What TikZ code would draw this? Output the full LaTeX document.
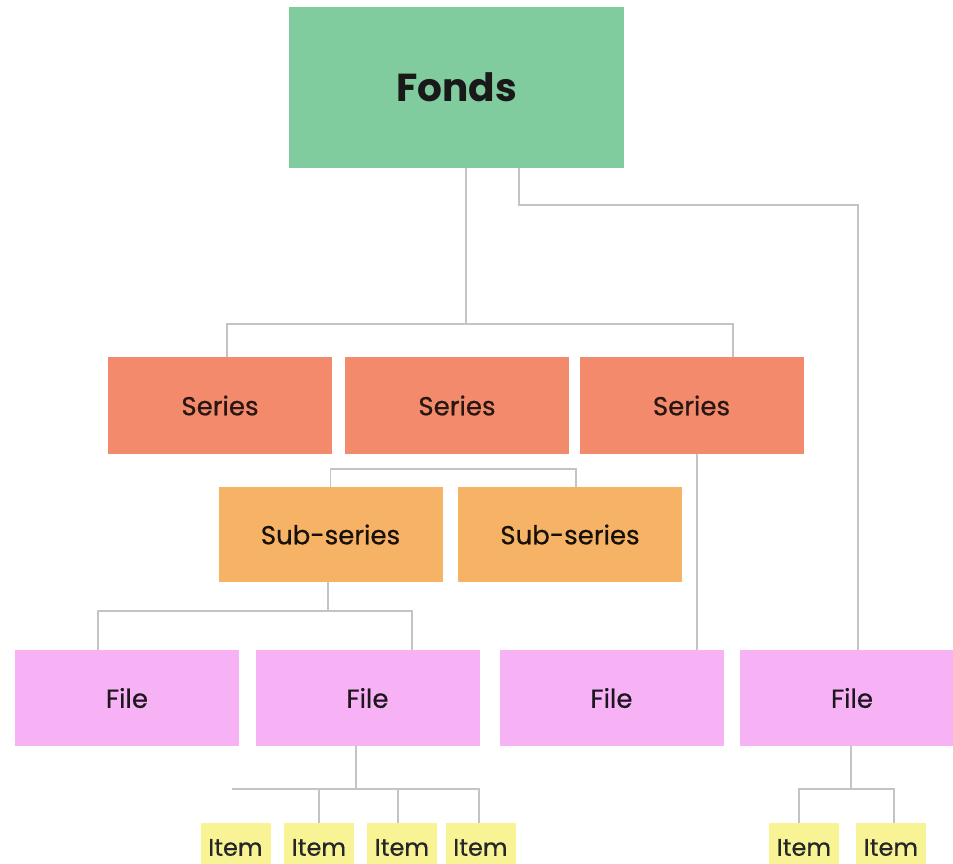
\documentclass[tikz,border=0pt]{standalone}
\usepackage{fontspec}
\setmainfont{Poppins}
\newfontfamily\medfont{Poppins}[FakeBold=0.6]
\definecolor{fondsc}{HTML}{80CC9E}
\definecolor{seriesc}{HTML}{F48A6C}
\definecolor{subc}{HTML}{F6B366}
\definecolor{filec}{HTML}{F7B2F5}
\definecolor{itemc}{HTML}{F8F496}
\definecolor{linec}{HTML}{C4C4C4}
\begin{document}
\begin{tikzpicture}[x=1pt,y=-1pt,
  box/.style={rectangle, inner sep=0pt, font=\medfont\fontsize{26}{30}\selectfont},
  fondsbox/.style={box, fill=fondsc, minimum width=335pt, minimum height=161pt, text=black!90, font=\fontsize{39}{44}\selectfont\bfseries},
  seriesbox/.style={box, fill=seriesc, minimum width=224pt, minimum height=97pt, text=black!60!seriesc!40!black},
  subbox/.style={box, fill=subc, minimum width=224pt, minimum height=95pt, text=black!70!subc!30!black},
  filebox/.style={box, fill=filec, minimum width=224pt, minimum height=96pt, text=black!65!filec!35!black},
  itembox/.style={box, fill=itemc, minimum width=70pt, minimum height=49pt, font=\medfont\fontsize{24}{28}\selectfont, text=black!85},
  conn/.style={draw=linec, line width=1.1pt}]
\useasboundingbox (0,0) rectangle (953,863);
\clip (0,0) rectangle (953,863);
\node[fondsbox] (fonds) at (456.5,87.5) {Fonds};
\node[seriesbox] (s1) at (220,405.5) {Series};
\node[seriesbox] (s2) at (457,405.5) {Series};
\node[seriesbox] (s3) at (691.5,405.5) {Series};
\node[subbox] (sub1) at (330.5,534.5) {Sub-series};
\node[subbox] (sub2) at (570,534.5) {Sub-series};
\node[filebox] (f1) at (127,698) {File};
\node[filebox] (f2) at (367.5,698) {File};
\node[filebox] (f3) at (611.5,698) {File};
\node[filebox] (f4) at (852,698) {File};
\node[itembox] (i1) at (235.5,847.5) {Item};
\node[itembox] (i2) at (319,847.5) {Item};
\node[itembox] (i3) at (402,847.5) {Item};
\node[itembox] (i4) at (480.5,847.5) {Item};
\node[itembox] (i5) at (804,847.5) {Item};
\node[itembox] (i6) at (891,847.5) {Item};
% connectors
\coordinate (jf) at (466,324);
\draw[conn] (fonds.south -| jf) -- (jf);
\draw[conn] ([xshift=7pt]s1.north) |- (jf) -| ([xshift=41.5pt]s3.north);
\coordinate (jr) at (858,205);
\draw[conn] ([xshift=62.5pt]fonds.south) |- (jr) -- (jr |- f4.north);
\coordinate (js) at (450,469);
\draw[conn] (sub1.north) |- (js) -| ([xshift=6pt]sub2.north);
\draw[conn] ([xshift=5.5pt]s3.south) -- ([xshift=85.5pt]f3.north);
\coordinate (jb) at (328,611);
\draw[conn] (sub1.south -| jb) -- (jb);
\draw[conn] ([xshift=-29pt]f1.north) |- (jb) -| ([xshift=44.5pt]f2.north);
\coordinate (ji) at (356,789);
\draw[conn] (f2.south -| ji) -- (ji);
\draw[conn] ([xshift=-3.5pt]i1.north |- ji) -- ([xshift=-1.5pt]i4.north |- ji) -- ([xshift=-1.5pt]i4.north);
\draw[conn] (i2.north |- ji) -- (i2.north);
\draw[conn] ([xshift=-4pt]i3.north |- ji) -- ([xshift=-4pt]i3.north);
\coordinate (jk) at (851,789);
\draw[conn] (f4.south -| jk) -- (jk);
\draw[conn] ([xshift=-5pt]i5.north) |- (jk) -| ([xshift=3pt]i6.north);
\end{tikzpicture}
\end{document}
